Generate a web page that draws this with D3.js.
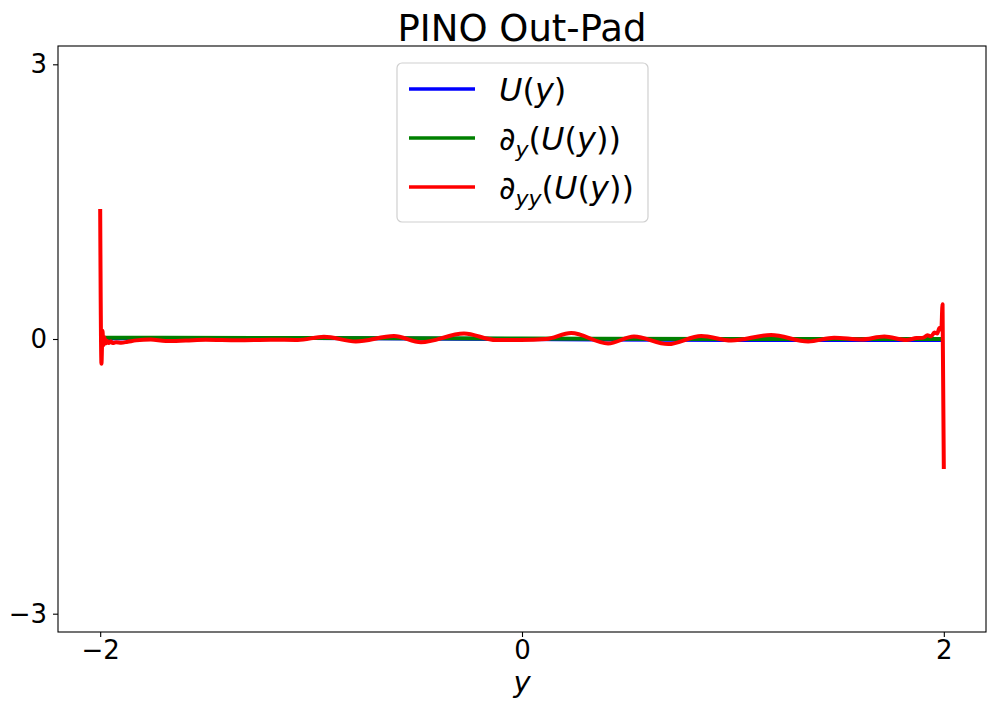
<!DOCTYPE html>
<html>
<head>
<meta charset="utf-8">
<script src="https://cdn.jsdelivr.net/npm/d3@7"></script>
<style>
  body { margin: 0; background: #fff; }
  text { font-family: "DejaVu Sans", sans-serif; }
</style>
</head>
<body>
<div id="chart"></div>
<script>
// data: [y, value]
var uPoints = [[-2, 0.005], [-1.5, 0.01], [-1, 0.01], [0, 0], [1, -0.01], [2, -0.01]];
var duPoints = [[-2, 0.015], [-1, 0.01], [0, 0.005], [1, 0.0], [2, 0.0]];
var dduPoints = [
  [-2.000, 1.42], [-1.994, -0.27], [-1.989, 0.09], [-1.985, -0.07], [-1.980, 0.02],
  [-1.975, -0.05], [-1.968, -0.02], [-1.960, -0.045], [-1.950, -0.025], [-1.940, -0.045],
  [-1.925, -0.035], [-1.900, -0.04], [-1.870, -0.03], [-1.830, -0.015], [-1.760, -0.005],
  [-1.689, -0.022], [-1.594, -0.016], [-1.499, -0.008], [-1.348, -0.014], [-1.191, -0.008],
  [-1.063, -0.011], [-0.939, 0.025], [-0.788, -0.027], [-0.607, 0.033], [-0.479, -0.036],
  [-0.275, 0.060], [-0.123, -0.011], [-0.005, -0.011], [0.114, 0.0], [0.233, 0.065],
  [0.408, -0.049], [0.531, 0.027], [0.693, -0.055], [0.850, 0.033], [0.992, -0.016],
  [1.181, 0.044], [1.357, -0.027], [1.480, 0.014], [1.609, -0.005], [1.718, 0.027],
  [1.822, -0.011], [1.870, 0.010], [1.903, 0.015], [1.922, 0.04], [1.941, 0.03],
  [1.955, 0.07], [1.969, 0.06], [1.979, 0.12], [1.988, 0.10], [1.994, 0.38], [2.000, -1.42]
];
var xTicks = [-2, 0, 2];
var yTicks = [-3, 0, 3];
var titleText = "PINO Out-Pad";

// legend labels as [text, italic, subscript]
var series = [
  { points: uPoints, color: "blue",
    label: [["U", 1, 0], ["(", 0, 0], ["y", 1, 0], [")", 0, 0]] },
  { points: duPoints, color: "green",
    label: [["∂", 1, 0], ["y", 1, 1], ["(", 0, 0], ["U", 1, 0], ["(", 0, 0], ["y", 1, 0], [")", 0, 0], [")", 0, 0]] },
  { points: dduPoints, color: "red",
    label: [["∂", 1, 0], ["yy", 1, 1], ["(", 0, 0], ["U", 1, 0], ["(", 0, 0], ["y", 1, 0], [")", 0, 0], [")", 0, 0]] }
];

var width = 997, height = 712;
var margin = {top: 46, right: 11, bottom: 80, left: 58};

var svg = d3.select('#chart').append('svg')
    .attr('width', width)
    .attr('height', height);

var x = d3.scaleLinear().domain([-2.2, 2.2]).range([margin.left, width - margin.right]);
var y = d3.scaleLinear().domain([-3.2, 3.2]).range([height - margin.bottom, margin.top]);

var line = d3.line()
    .x(function(d) { return x(d[0]); })
    .y(function(d) { return y(d[1]); })
    .curve(d3.curveMonotoneX);

svg.append('defs').append('clipPath').attr('id', 'clip')
  .append('rect')
    .attr('x', margin.left).attr('y', margin.top)
    .attr('width', width - margin.left - margin.right)
    .attr('height', height - margin.top - margin.bottom);

svg.append('g').attr('clip-path', 'url(#clip)')
  .selectAll('path')
  .data(series)
  .enter().append('path')
    .attr('d', function(d) { return line(d.points); })
    .attr('fill', 'none')
    .attr('stroke', function(d) { return d.color; })
    .attr('stroke-width', 4)
    .attr('stroke-linejoin', 'round');

// axes
var fmt = function(d) { return d < 0 ? '\u2212' + Math.abs(d) : d; };
var xAxis = svg.append('g')
    .attr('transform', 'translate(0,' + (height - margin.bottom) + ')')
    .call(d3.axisBottom(x).tickValues(xTicks).tickSize(5).tickPadding(4).tickFormat(fmt));
var yAxis = svg.append('g')
    .attr('transform', 'translate(' + margin.left + ',0)')
    .call(d3.axisLeft(y).tickValues(yTicks).tickSize(5).tickPadding(6).tickFormat(fmt));

[xAxis, yAxis].forEach(function(a) {
  a.select('.domain').remove();
  a.selectAll('line').attr('stroke', '#000').attr('stroke-width', 1.1);
  a.selectAll('text').attr('fill', '#000').style('font-size', '26px')
    .style('font-family', '"DejaVu Sans", sans-serif');
});

svg.append('rect')
    .attr('x', margin.left).attr('y', margin.top)
    .attr('width', width - margin.left - margin.right)
    .attr('height', height - margin.top - margin.bottom)
    .attr('fill', 'none')
    .attr('stroke', '#000')
    .attr('stroke-width', 1.1);

// title and axis label
svg.append('text')
    .attr('x', (margin.left + width - margin.right) / 2)
    .attr('y', 41)
    .attr('text-anchor', 'middle')
    .style('font-size', '37px')
    .text(titleText);

svg.append('text')
    .attr('x', (margin.left + width - margin.right) / 2)
    .attr('y', 692)
    .attr('text-anchor', 'middle')
    .style('font-size', '29px')
    .style('font-style', 'italic')
    .text('y');

// legend
var legend = svg.append('g').attr('transform', 'translate(397,63)');
legend.append('rect')
    .attr('width', 251).attr('height', 159)
    .attr('rx', 5).attr('ry', 5)
    .attr('fill', '#fff').attr('fill-opacity', 0.8)
    .attr('stroke', '#d0d0d0').attr('stroke-width', 1.2);

var items = legend.selectAll('.item')
    .data(series)
  .enter().append('g')
    .attr('class', 'item')
    .attr('transform', function(d, i) { return 'translate(0,' + (26 + i * 49) + ')'; });

items.append('line')
    .attr('x1', 12).attr('x2', 78)
    .attr('stroke', function(d) { return d.color; })
    .attr('stroke-width', 3.5);

var labels = items.append('text')
    .attr('x', 102)
    .attr('y', 12)
    .style('font-size', '32px');

labels.each(function(d) {
  var t = d3.select(this);
  var down = false;
  d.label.forEach(function(p) {
    var s = t.append('tspan').text(p[0])
      .style('font-style', p[1] ? 'italic' : 'normal');
    if (p[2]) {
      s.style('font-size', '22px').attr('dy', 7);
      down = true;
    } else if (down) {
      s.attr('dy', -7);
      down = false;
    }
  });
});
</script>
</body>
</html>
